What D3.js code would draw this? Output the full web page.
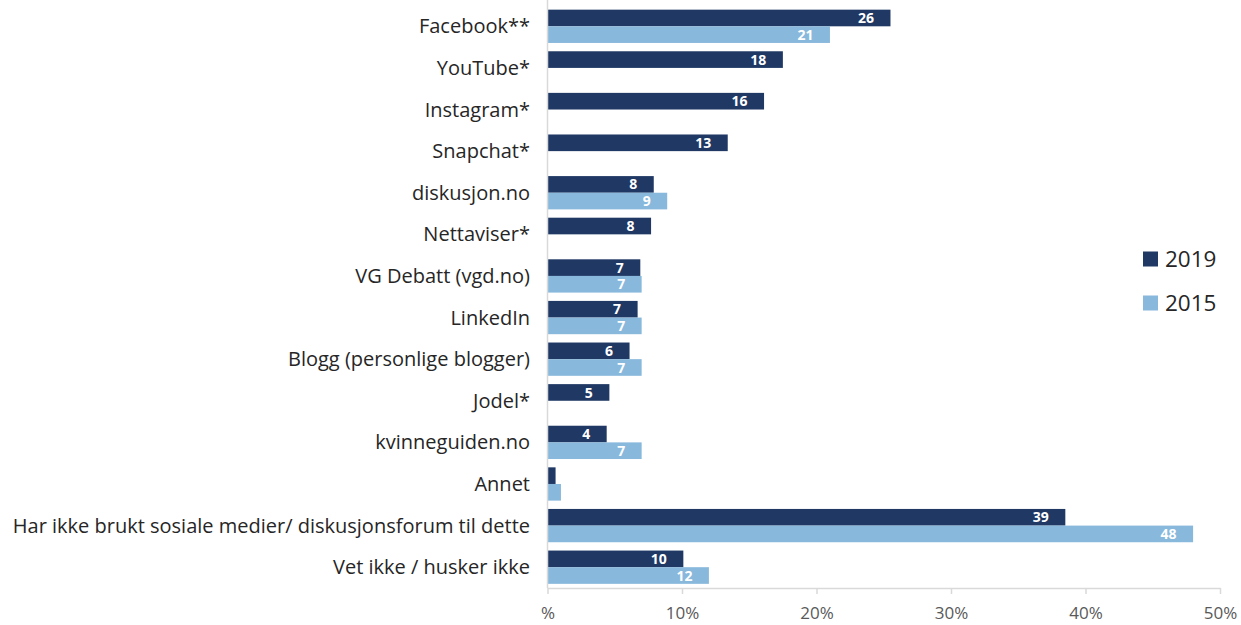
<!DOCTYPE html>
<html>
<head>
<meta charset="utf-8">
<script src="https://cdn.jsdelivr.net/npm/d3@7"></script>
<style>
	body { margin: 0; background: #fff; }
	svg { display: block; }
</style>
</head>
<body>
<div id="chartDiv"></div>
<script>
;(function() {

	var categories = [
		"Facebook**", "YouTube*", "Instagram*", "Snapchat*", "diskusjon.no",
		"Nettaviser*", "VG Debatt (vgd.no)", "LinkedIn", "Blogg (personlige blogger)",
		"Jodel*", "kvinneguiden.no", "Annet",
		"Har ikke brukt sosiale medier/ diskusjonsforum til dette",
		"Vet ikke / husker ikke"
	];
	var values2019 = [25.5, 17.5, 16.1, 13.4, 7.9, 7.7, 6.9, 6.7, 6.1, 4.6, 4.4, 0.6, 38.5, 10.1];
	var values2015 = [21.0, null, null, null, 8.9, null, 7.0, 7.0, 7.0, null, 7.0, 1.0, 48.0, 12.0];
	var seriesNames = ["2019", "2015"];
	var xTicks = [0, 10, 20, 30, 40, 50];
	var xTickLabels = ["%", "10%", "20%", "30%", "40%", "50%"];

	var width = 1241;
	var height = 625;
	var colors = { "2019": "#1f3864", "2015": "#88b8dc" };
	var fontFamily = "'Open Sans', 'Noto Sans', sans-serif";

	var plotLeft = 547.5;
	var plotRight = 1220;
	var plotTop = 5.5;
	var plotBottom = 588;

	var rows = categories.map(function(c, i) {
		return { cat: c, "2019": values2019[i], "2015": values2015[i] };
	});

	var svg = d3.select("#chartDiv").append("svg")
		.attr("width", width)
		.attr("height", height);

	var xScale = d3.scaleLinear()
		.domain([0, 50])
		.range([plotLeft, plotRight]);

	var yScale = d3.scaleBand()
		.domain(categories)
		.range([plotTop, plotBottom])
		.paddingInner(0.2)
		.paddingOuter(0.1);

	var subScale = d3.scaleBand()
		.domain(seriesNames)
		.range([0, yScale.bandwidth()]);

	// bars
	var groups = svg.append("g").selectAll("g")
		.data(rows)
		.enter().append("g")
			.attr("transform", function(d) { return "translate(0," + yScale(d.cat) + ")"; });

	seriesNames.forEach(function(s) {
		var present = groups.filter(function(d) { return d[s] != null; });

		present.append("rect")
			.attr("x", xScale(0))
			.attr("y", subScale(s))
			.attr("width", function(d) { return xScale(d[s]) - xScale(0); })
			.attr("height", subScale.bandwidth())
			.attr("fill", colors[s]);

		present.filter(function(d) { return d[s] >= 2; })
			.append("text")
			.attr("x", function(d) { return xScale(d[s]) - 16.5; })
			.attr("y", subScale(s) + subScale.bandwidth() / 2)
			.attr("dy", "0.36em")
			.attr("text-anchor", "end")
			.attr("fill", "#fff")
			.style("font-family", fontFamily)
			.style("font-size", "14px")
			.style("font-weight", "bold")
			.text(function(d) { return Math.round(d[s]); });
	});

	// y axis line
	svg.append("line")
		.attr("x1", plotLeft).attr("x2", plotLeft)
		.attr("y1", 0).attr("y2", plotBottom)
		.attr("stroke", "#d9d9d9")
		.attr("stroke-width", 1.5);

	// category labels
	svg.append("g").selectAll("text")
		.data(categories)
		.enter().append("text")
			.attr("x", 530)
			.attr("y", function(d) { return yScale(d) + yScale.bandwidth() / 2; })
			.attr("dy", "0.35em")
			.attr("text-anchor", "end")
			.attr("fill", "#262626")
			.style("font-family", fontFamily)
			.style("font-size", "20px")
			.text(function(d) { return d; });

	// x axis
	var xAxis = d3.axisBottom(xScale)
		.tickValues(xTicks)
		.tickSize(6)
		.tickSizeOuter(0)
		.tickPadding(13)
		.tickFormat(function(d, i) { return xTickLabels[i]; });

	var xAxisG = svg.append("g")
		.attr("transform", "translate(0," + plotBottom + ")")
		.call(xAxis);

	xAxisG.select(".domain").attr("stroke", "#d9d9d9").attr("stroke-width", 1.5);
	xAxisG.selectAll(".tick line").attr("stroke", "#d9d9d9").attr("stroke-width", 1.5);
	xAxisG.selectAll(".tick text")
		.attr("fill", "#595959")
		.style("font-family", fontFamily)
		.style("font-size", "17px");

	// legend
	var legend = svg.append("g").selectAll("g")
		.data(seriesNames)
		.enter().append("g")
			.attr("transform", function(d, i) { return "translate(1143," + (259 + i * 44) + ")"; });

	legend.append("rect")
		.attr("x", 0)
		.attr("y", -7.5)
		.attr("width", 15)
		.attr("height", 15)
		.attr("fill", function(d) { return colors[d]; });

	legend.append("text")
		.attr("x", 22)
		.attr("y", 0)
		.attr("dy", "0.36em")
		.attr("fill", "#262626")
		.style("font-family", fontFamily)
		.style("font-size", "22.5px")
		.text(function(d) { return d; });

})();
</script>
</body>
</html>
